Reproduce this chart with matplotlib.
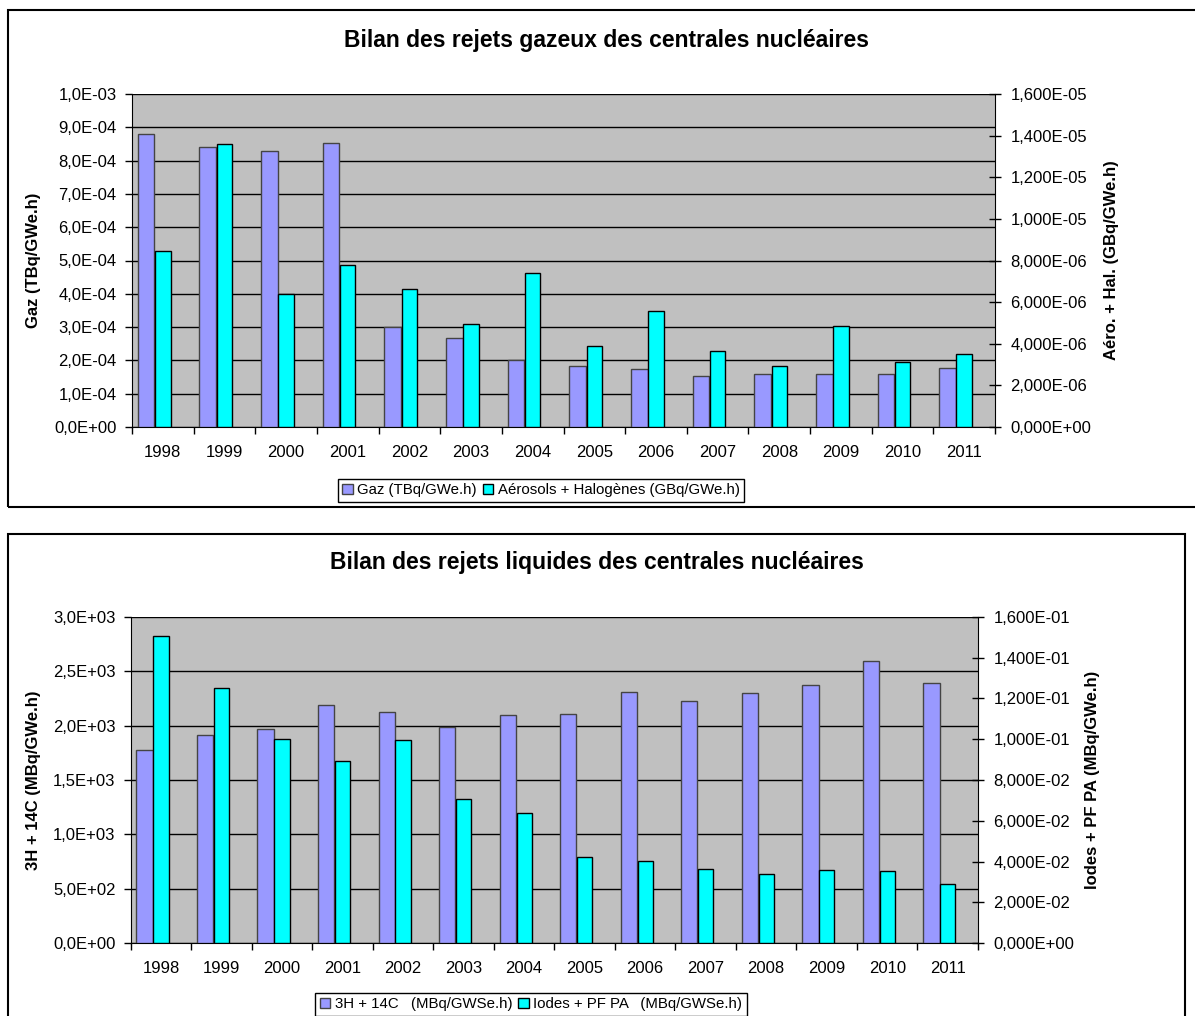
import numpy as np
import matplotlib
matplotlib.use("Agg")
import matplotlib.pyplot as plt
from matplotlib.patches import Rectangle
from matplotlib.ticker import FuncFormatter, MultipleLocator

plt.rcParams['font.family'] = ['Liberation Sans', 'DejaVu Sans']

years = ['1998', '1999', '2000', '2001', '2002', '2003', '2004',
         '2005', '2006', '2007', '2008', '2009', '2010', '2011']

# rejets gazeux
gaz = [8.8e-4, 8.4e-4, 8.3e-4, 8.53e-4, 3.0e-4, 2.68e-4, 2.0e-4,
       1.84e-4, 1.74e-4, 1.52e-4, 1.6e-4, 1.6e-4, 1.58e-4, 1.78e-4]
aero_hal = [8.45e-6, 1.36e-5, 6.38e-6, 7.77e-6, 6.62e-6, 4.96e-6, 7.4e-6,
            3.87e-6, 5.59e-6, 3.63e-6, 2.94e-6, 4.87e-6, 3.1e-6, 3.52e-6]

# rejets liquides
h3_c14 = [1779, 1913, 1971, 2186, 2128, 1990, 2097,
          2109, 2311, 2226, 2302, 2370, 2596, 2391]
iodes_pf = [0.1504, 0.1249, 0.0999, 0.0895, 0.0994, 0.0709, 0.0637,
            0.0424, 0.0403, 0.0362, 0.0341, 0.0358, 0.0353, 0.0289]

PURPLE = '#9999FF'
CYAN = '#00FFFF'
GRAY = '#C0C0C0'
FS = 12


def sci_fmt(decimals):
    def f(v, pos):
        return f"{v:.{decimals}E}".replace('.', ',')
    return FuncFormatter(f)


def panel(fig, rect, title, title_xy, left_vals, right_vals,
          left_max, left_step, right_max, right_step,
          left_label, right_label, label_x, leg_labels, leg_xy):
    ax = fig.add_axes(rect)
    x = np.arange(len(years))
    ax.set_facecolor(GRAY)
    b1 = ax.bar(x - 0.27, left_vals, width=0.27, color=PURPLE,
                edgecolor='#444444', linewidth=1.0, zorder=3)
    ax.set_xlim(-0.5, len(years) - 0.5)
    ax.set_ylim(0, left_max)
    ax.yaxis.set_major_locator(MultipleLocator(left_step))
    ax.yaxis.set_major_formatter(sci_fmt(1))
    ax.grid(axis='y', color='black', linewidth=1.0, zorder=1)
    ax.set_axisbelow(True)

    ax2 = ax.twinx()
    b2 = ax2.bar(x, right_vals, width=0.25, color=CYAN,
                 edgecolor='black', linewidth=1.0, zorder=3)
    ax2.set_ylim(0, right_max)
    ax2.yaxis.set_major_locator(MultipleLocator(right_step))
    ax2.yaxis.set_major_formatter(sci_fmt(3))

    # ticks between categories, year labels centred under each group
    ax.set_xticks(np.arange(len(years) + 1) - 0.5, minor=False)
    ax.set_xticklabels([])
    ax.set_xticks(x, minor=True)
    ax.set_xticklabels(years, minor=True)
    ax.tick_params(axis='x', which='major', length=5, width=1, direction='out')
    ax.tick_params(axis='x', which='minor', length=0, pad=13, labelsize=FS)
    ax.tick_params(axis='y', length=5, width=1, direction='out', pad=6,
                   labelsize=FS)
    ax2.tick_params(axis='y', length=8, width=1, direction='inout', pad=7,
                    labelsize=FS)

    for a in (ax, ax2):
        a.spines['top'].set_visible(False)
    ax.spines['right'].set_visible(False)
    ax2.spines['left'].set_visible(False)
    ax2.spines['bottom'].set_visible(False)

    ax.set_ylabel(left_label, fontsize=FS, fontweight='bold')
    ax2.set_ylabel(right_label, fontsize=FS, fontweight='bold')
    ax.yaxis.set_label_coords(label_x[0], 0.5)
    ax2.yaxis.set_label_coords(label_x[1], 0.5)

    fig.text(title_xy[0], title_xy[1], title, ha='center',
             va='center', fontsize=16.5, fontweight='bold')

    leg = fig.legend([b1, b2], leg_labels, loc='center',
                     bbox_to_anchor=leg_xy, ncol=2, fontsize=10.8,
                     handlelength=0.7, handleheight=0.7, handletextpad=0.3,
                     columnspacing=0.4, borderpad=0.3, fancybox=False,
                     frameon=True, edgecolor='black', framealpha=1)
    leg.get_frame().set_linewidth(1.0)
    return ax, ax2


W, H = 1195, 1016
fig = plt.figure(figsize=(W / 100, H / 100), dpi=100)


def fx(px):
    return px / W


def fy(py):
    return 1 - py / H


# chart frames
fig.patches.append(Rectangle((fx(7.5), fy(507)), fx(1195) - fx(7.5) + 0.01,
                             fy(10) - fy(507), transform=fig.transFigure,
                             fill=False, edgecolor='black', linewidth=1.5))
fig.patches.append(Rectangle((fx(7.5), fy(1030)), fx(1185) - fx(7.5),
                             fy(534) - fy(1030), transform=fig.transFigure,
                             fill=False, edgecolor='black', linewidth=1.5))

panel(fig, [fx(132), fy(427), fx(995) - fx(132), fy(94) - fy(427)],
      'Bilan des rejets gazeux des centrales nucléaires', (fx(607), fy(40)),
      gaz, aero_hal, 1.0e-3, 1.0e-4, 1.6e-5, 2.0e-6,
      'Gaz (TBq/GWe.h)', 'Aéro. + Hal. (GBq/GWe.h)', (-0.105, 1.126),
      ['Gaz (TBq/GWe.h)', 'Aérosols + Halogènes (GBq/GWe.h)'],
      (fx(541), fy(490)))

panel(fig, [fx(130.7), fy(943.3), fx(978) - fx(130.7), fy(616.7) - fy(943.3)],
      'Bilan des rejets liquides des centrales nucléaires', (fx(597), fy(563)),
      h3_c14, iodes_pf, 3.0e3, 5.0e2, 0.16, 0.02,
      '3H + 14C (MBq/GWe.h)', 'Iodes + PF PA (MBq/GWe.h)', (-0.106, 1.126),
      ['3H + 14C   (MBq/GWSe.h)', 'Iodes + PF PA   (MBq/GWSe.h)'],
      (fx(531), fy(1004)))

fig.savefig('out.png', dpi=100)
